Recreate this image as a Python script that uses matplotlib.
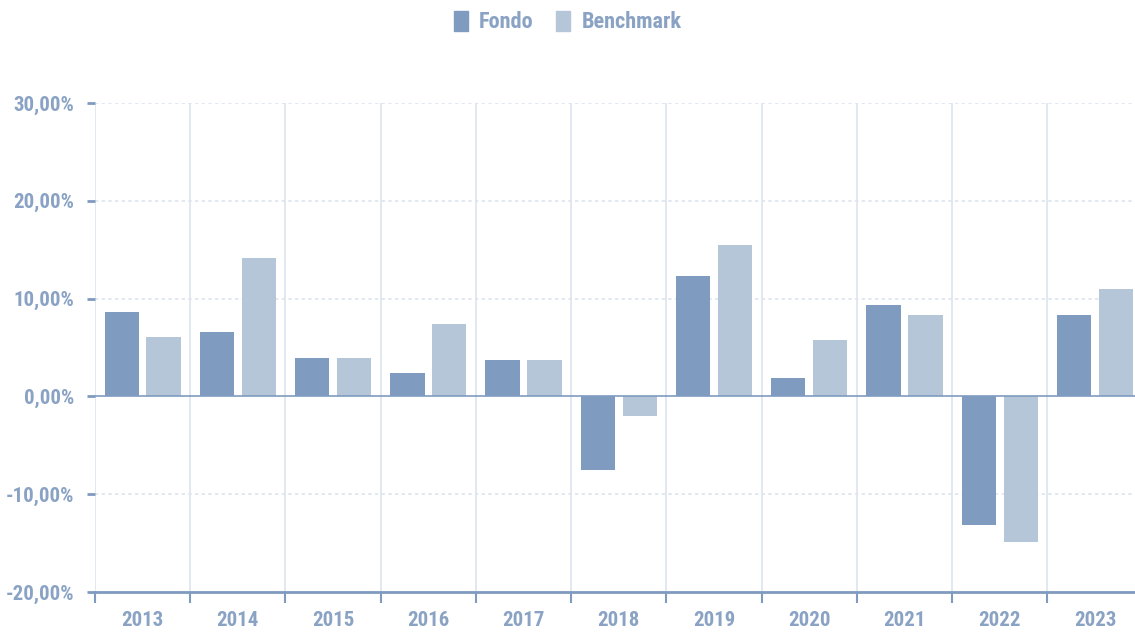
import numpy as np
import matplotlib
matplotlib.use('Agg')
import matplotlib.pyplot as plt
from matplotlib.patches import Patch

years = ['2013', '2014', '2015', '2016', '2017', '2018', '2019', '2020', '2021', '2022', '2023']
fondo = [8.6, 6.6, 3.9, 2.4, 3.7, -7.5, 12.3, 1.9, 9.3, -13.2, 8.3]
benchmark = [6.1, 14.2, 3.9, 7.4, 3.7, -2.0, 15.5, 5.8, 8.3, -14.9, 11.0]
yticks = [-20, -10, 0, 10, 20, 30]

c_fondo = '#7f9bbf'
c_bench = '#b5c6d9'
c_text = '#8aa3c4'
c_axis = '#7f9bbf'
c_grid = '#dde4ee'

plt.rcParams['font.family'] = ['Roboto Condensed', 'DejaVu Sans']

fig = plt.figure(figsize=(11.35, 6.33), dpi=100)
ax = fig.add_axes([95/1135, 1-592/633, 1-95/1135, (592-103)/633])

x = np.arange(len(years))
ax.bar(x - 0.22, fondo, width=0.36, color=c_fondo, zorder=3)
ax.bar(x + 0.22, benchmark, width=0.36, color=c_bench, zorder=3)

ax.set_xlim(-0.5, 10.42)
ax.set_ylim(-20, 30)

# grid
for y in yticks:
    if y != 0 and y != -20:
        ax.axhline(y, color=c_grid, lw=1.2, ls=(0, (2, 2)), zorder=1)
for b in np.arange(-0.5, 10.5, 1.0):
    ax.axvline(b, color=c_grid, lw=1.2, zorder=1)
ax.axhline(0, color=c_axis, lw=1.2, zorder=4)

for s in ['top', 'right', 'left']:
    ax.spines[s].set_visible(False)
ax.spines['bottom'].set_color(c_axis)
ax.spines['bottom'].set_linewidth(2)

ax.set_yticks(yticks)
ax.set_yticklabels(['%d,00%%' % v for v in yticks])
ax.tick_params(axis='y', length=6, width=2, color=c_axis, pad=9,
               labelcolor=c_text, labelsize=15)
ax.set_xticks(np.arange(-0.5, 10.5, 1.0))
ax.set_xticklabels([])
ax.set_xticks(x, minor=True)
ax.set_xticklabels(years, minor=True)
ax.tick_params(axis='x', which='major', length=8, width=1.5, color=c_axis, direction='out')
ax.tick_params(axis='x', which='minor', length=0, pad=14, labelcolor=c_text, labelsize=15)
for lab in ax.get_xticklabels(minor=True) + ax.get_yticklabels():
    lab.set_fontweight('bold')

handles = [Patch(color=c_fondo, label='Fondo'), Patch(color=c_bench, label='Benchmark')]
leg = fig.legend(handles=handles, loc='center', bbox_to_anchor=(0.5, 1-22/633), ncol=2,
                 frameon=False, handlelength=0.65, handleheight=1.0, handletextpad=0.5,
                 columnspacing=1.0, prop={'size': 16, 'weight': 'bold'})
for t in leg.get_texts():
    t.set_color(c_text)

fig.savefig('out.png', dpi=100)
